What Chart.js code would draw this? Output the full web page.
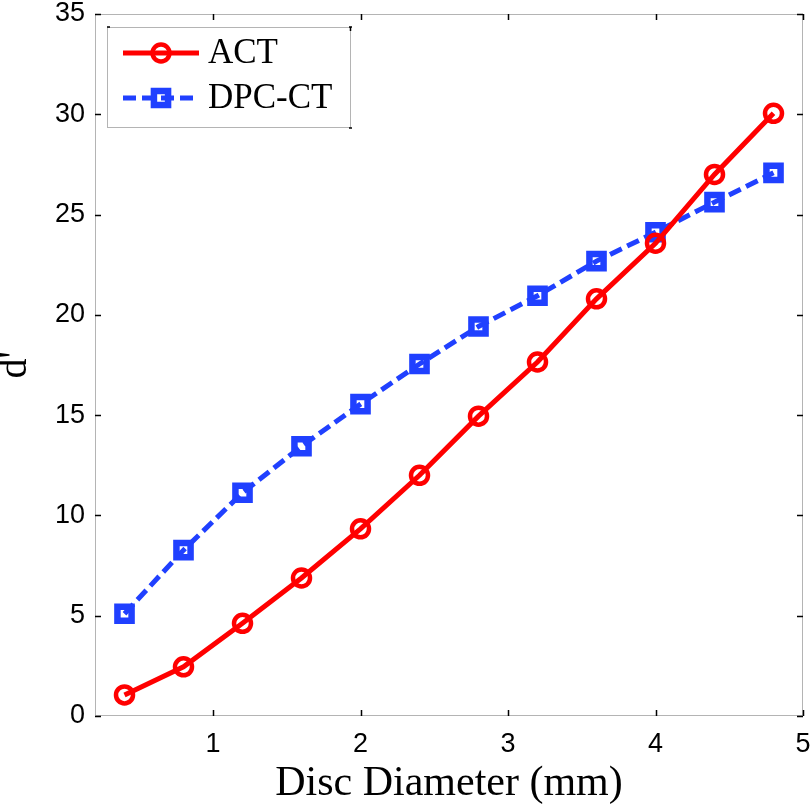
<!DOCTYPE html>
<html><head><meta charset="utf-8">
<script src="https://cdn.jsdelivr.net/npm/chart.js@4/dist/chart.umd.min.js"></script>
<style>html,body{margin:0;padding:0;background:#fff}#wrap{width:810px;height:806px}</style>
</head><body><div id="wrap"><canvas id="c" width="810" height="806"></canvas></div>
<script>
const diameters = [0.4, 0.8, 1.2, 1.6, 2.0, 2.4, 2.8, 3.2, 3.6, 4.0, 4.4, 4.8];
const actValues = [1.05, 2.45, 4.62, 6.88, 9.33, 12.0, 14.95, 17.65, 20.8, 23.57, 27.0, 30.05];
const dpcValues = [5.1, 8.27, 11.13, 13.45, 15.55, 17.55, 19.42, 20.95, 22.68, 24.12, 25.62, 27.08];
const xTicks = [1, 2, 3, 4, 5];
const yTicks = [0, 5, 10, 15, 20, 25, 30, 35];
const seriesNames = ['ACT', 'DPC-CT'];
const xTitle = 'Disc Diameter (mm)';
const yTitle = "d'";

const RED = '#ff0000';
const BLUE = '#2040ff';
const DASH = [13, 6];

const framePlugin = {
  id: 'frame',
  beforeDatasetsDraw(chart) {
    const {ctx, chartArea: a, scales} = chart;
    ctx.save();
    ctx.strokeStyle = '#b4b4b4';
    ctx.lineWidth = 1;
    ctx.strokeRect(a.left + 0.5, a.top + 0.5, a.right - a.left - 1, a.bottom - a.top - 1);
    ctx.strokeStyle = '#000';
    ctx.lineWidth = 1.5;
    const L = 6;
    ctx.beginPath();
    scales.x.ticks.forEach(t => {
      const px = Math.round(scales.x.getPixelForValue(t.value)) + 0.5;
      ctx.moveTo(px, a.bottom); ctx.lineTo(px, a.bottom - L);
      ctx.moveTo(px, a.top); ctx.lineTo(px, a.top + L);
    });
    scales.y.ticks.forEach(t => {
      const py = Math.round(scales.y.getPixelForValue(t.value)) + 0.5;
      ctx.moveTo(a.left, py); ctx.lineTo(a.left + L, py);
      ctx.moveTo(a.right, py); ctx.lineTo(a.right - L, py);
    });
    ctx.stroke();
    ctx.restore();
  },
  afterDatasetsDraw(chart) {
    const {ctx, chartArea: a} = chart;
    const bx = a.left + 12, by = a.top + 13, bw = 243, bh = 100;
    ctx.save();
    ctx.fillStyle = '#fff';
    ctx.fillRect(bx, by, bw, bh);
    ctx.strokeStyle = '#b4b4b4';
    ctx.lineWidth = 1;
    ctx.strokeRect(bx + 0.5, by + 0.5, bw, bh);
    ctx.strokeStyle = '#000';
    ctx.lineWidth = 1.5;
    ctx.beginPath();
    ctx.moveTo(bx + bw - 1, by); ctx.lineTo(bx + bw + 2, by);
    ctx.moveTo(bx + bw + 0.5, by); ctx.lineTo(bx + bw + 0.5, by + 4);
    ctx.moveTo(bx + bw - 1, by + bh + 1); ctx.lineTo(bx + bw + 2, by + bh + 1);
    ctx.moveTo(bx, by); ctx.lineTo(bx + 3, by);
    ctx.stroke();
    const rows = [by + 26, by + 71];
    chart.data.datasets.forEach((ds, i) => {
      const y = rows[i];
      ctx.strokeStyle = ds.borderColor;
      ctx.lineWidth = ds.borderWidth;
      ctx.setLineDash(ds.borderDash || []);
      ctx.beginPath();
      ctx.moveTo(bx + 16, y); ctx.lineTo(bx + 92, y);
      ctx.stroke();
      ctx.setLineDash([]);
      ctx.fillStyle = 'rgba(0,0,0,0)';
      ctx.lineWidth = ds.pointBorderWidth;
      Chart.helpers.drawPoint(ctx, {
        pointStyle: ds.pointStyle, radius: ds.pointRadius,
        borderWidth: ds.pointBorderWidth, rotation: 0
      }, bx + 54, y);
      ctx.fillStyle = '#000';
      ctx.font = '35px "Liberation Serif", "Times New Roman", serif';
      ctx.textBaseline = 'middle';
      ctx.textAlign = 'left';
      ctx.fillText(ds.label, bx + 101, y + 1);
    });
    ctx.restore();
  }
};

function pts(vals) { return diameters.map((d, i) => ({x: d, y: vals[i]})); }

new Chart(document.getElementById('c'), {
  type: 'line',
  data: {
    datasets: [
      {
        label: seriesNames[0], data: pts(actValues),
        borderColor: RED, borderWidth: 5, backgroundColor: 'rgba(0,0,0,0)',
        pointStyle: 'circle', pointRadius: 8.5, pointBorderWidth: 4.5,
        pointBorderColor: RED, pointBackgroundColor: 'rgba(0,0,0,0)',
        tension: 0
      },
      {
        label: seriesNames[1], data: pts(dpcValues),
        borderColor: BLUE, borderWidth: 5, borderDash: DASH, backgroundColor: 'rgba(0,0,0,0)',
        pointStyle: 'rect', pointRadius: 10, pointBorderWidth: 6.5,
        pointBorderColor: BLUE, pointBackgroundColor: 'rgba(0,0,0,0)',
        tension: 0
      }
    ]
  },
  options: {
    responsive: false,
    animation: false,
    devicePixelRatio: 1,
    layout: {autoPadding: false, padding: {top: 14, right: 7, left: 0, bottom: 0}},
    plugins: {legend: {display: false}, tooltip: {enabled: false}},
    scales: {
      x: {
        type: 'linear', min: 0.2, max: 5,
        afterBuildTicks: s => { s.ticks = xTicks.map(v => ({value: v})); },
        afterFit: s => { s.height = 90; s.paddingLeft = 0; s.paddingRight = 0; },
        grid: {display: false, drawTicks: false},
        border: {display: false},
        ticks: {color: '#000', padding: 12, font: {family: '"Liberation Sans", Arial, sans-serif', size: 27}, maxRotation: 0},
        title: {display: true, text: xTitle, color: '#000', padding: {top: 0, bottom: 1},
          font: {family: '"Liberation Serif", "Times New Roman", serif', size: 42, lineHeight: 1}}
      },
      y: {
        type: 'linear', min: 0, max: 35,
        afterBuildTicks: s => { s.ticks = yTicks.map(v => ({value: v})); },
        afterFit: s => { s.width = 95; s.paddingTop = 0; s.paddingBottom = 0; },
        grid: {display: false, drawTicks: false},
        border: {display: false},
        ticks: {color: '#000', padding: 10, font: {family: '"Liberation Sans", Arial, sans-serif', size: 27}},
        title: {display: true, text: yTitle, color: '#000', padding: {top: 0, bottom: 0},
          font: {family: '"Liberation Serif", "Times New Roman", serif', size: 40, lineHeight: 0.75}}
      }
    }
  },
  plugins: [framePlugin]
});
</script></body></html>
